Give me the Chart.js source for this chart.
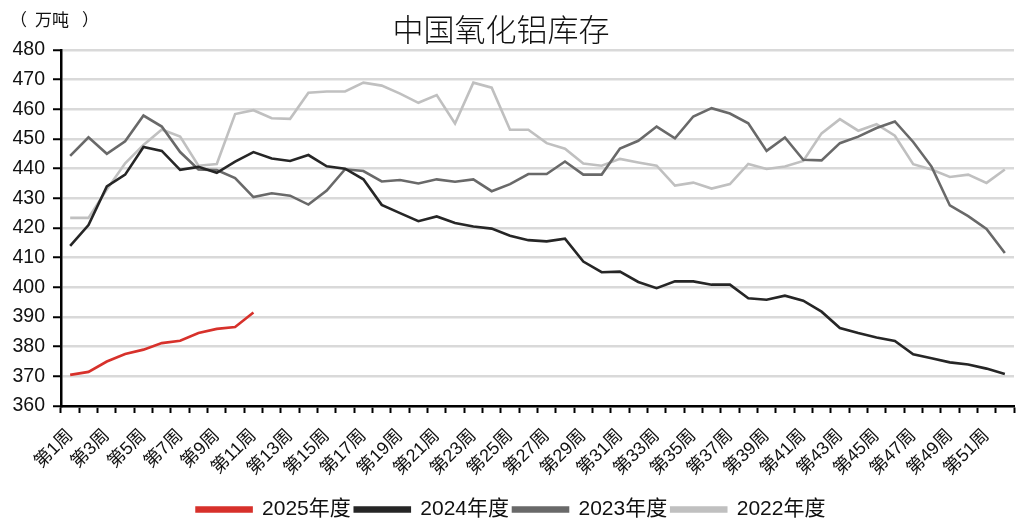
<!DOCTYPE html>
<html>
<head>
<meta charset="utf-8">
<script src="https://cdn.jsdelivr.net/npm/chart.js@4/dist/chart.umd.min.js"></script>
<style>
  html, body { margin: 0; padding: 0; background: #fff; }
  #wrap { width: 1020px; height: 520px; }
</style>
</head>
<body>
<div id="wrap"><canvas id="c" width="1020" height="520"></canvas></div>
<script>
// weeks 1..52
const weeks = [];
for (let i = 1; i <= 52; i++) weeks.push("第" + i + "周");

const yTicks = [360, 370, 380, 390, 400, 410, 420, 430, 440, 450, 460, 470, 480];

const seriesNames = ["2025年度", "2024年度", "2023年度", "2022年度"];

const v2025 = [370.5, 371.5, 375, 377.5, 379, 381.2, 382, 384.6, 386, 386.6, 391.5];

const v2024 = [414, 421, 434, 438, 447.3, 446, 439.6, 440.6, 438.6, 442.4,
  445.6, 443.4, 442.6, 444.6, 440.8, 440, 436.4, 427.8, 425, 422.3,
  423.9, 421.7, 420.5, 419.8, 417.4, 415.9, 415.5, 416.4, 408.7, 405.1,
  405.3, 401.8, 399.7, 402, 402, 400.9, 400.9, 396.3, 395.8, 397.2,
  395.5, 391.8, 386.3, 384.6, 383.1, 381.9, 377.4, 376.1, 374.7, 374,
  372.6, 370.8];

const v2023 = [444.3, 450.6, 445, 449.2, 457.9, 454.2, 445.6, 439.7, 439.5, 436.8,
  430.4, 431.7, 430.9, 427.9, 432.6, 439.8, 439.2, 435.7, 436.2, 435,
  436.4, 435.6, 436.4, 432.4, 434.8, 438.2, 438.2, 442.4, 438, 438,
  446.8, 449.4, 454.2, 450.2, 457.6, 460.4, 458.6, 455.3, 446, 450.5,
  443, 442.8, 448.6, 450.8, 453.7, 455.9, 449, 440.7, 427.6, 424,
  419.7, 411.6];

const v2022 = [423.4, 423.4, 433, 441.8, 448, 453.2, 450.8, 441, 441.6, 458.4,
  459.7, 457, 456.8, 465.6, 466, 466, 469, 468, 465.3, 462.2,
  464.8, 455.2, 469, 467.3, 453.1, 453.1, 448.6, 446.7, 441.7, 441,
  443.3, 442.1, 441, 434.3, 435.3, 433.3, 434.8, 441.6, 439.9, 440.7,
  442.6, 451.9, 456.7, 452.8, 455, 451.1, 441.5, 439.7, 437.2, 438,
  435.2, 439.7];

const colors = ["#d7312b", "#262626", "#696969", "#c0c0c0"];

const latin = "'Liberation Sans', Arial, 'Noto Sans CJK SC', sans-serif";

// title and unit label
const headerPlugin = {
  id: "header",
  afterDraw(chart) {
    const ctx = chart.ctx;
    ctx.save();
    ctx.fillStyle = "#111";
    ctx.textBaseline = "middle";
    ctx.textAlign = "center";
    ctx.font = "300 31px 'Noto Sans CJK SC', sans-serif";
    ctx.fillText("中国氧化铝库存", 501, 29);
    ctx.textAlign = "left";
    ctx.font = "17px 'Noto Sans CJK SC', sans-serif";
    ctx.fillText("（", 10, 20);
    ctx.fillText("万吨", 35, 20);
    ctx.fillText("）", 82, 20);
    ctx.restore();
  }
};

new Chart(document.getElementById("c"), {
  type: "line",
  data: {
    labels: weeks,
    datasets: [
      { label: seriesNames[0], data: v2025, borderColor: colors[0], backgroundColor: colors[0] },
      { label: seriesNames[1], data: v2024, borderColor: colors[1], backgroundColor: colors[1] },
      { label: seriesNames[2], data: v2023, borderColor: colors[2], backgroundColor: colors[2] },
      { label: seriesNames[3], data: v2022, borderColor: colors[3], backgroundColor: colors[3] }
    ]
  },
  plugins: [headerPlugin],
  options: {
    responsive: false,
    animation: false,
    devicePixelRatio: 1,
    layout: { padding: { top: 50, right: 6, left: 8, bottom: -10 } },
    elements: {
      line: { borderWidth: 2.6, tension: 0 },
      point: { radius: 0, hoverRadius: 0 }
    },
    scales: {
      x: {
        type: "category",
        offset: true,
        afterFit: function (axis) {
          axis.height = 89;
          axis.paddingLeft = 0;
          axis.paddingRight = 0;
        },
        grid: {
          display: true,
          drawOnChartArea: false,
          drawTicks: true,
          tickLength: 7,
          tickWidth: 2,
          tickColor: "#000",
          offset: true
        },
        border: { display: true, color: "#000", width: 2.5 },
        ticks: {
          autoSkip: false,
          maxRotation: 45,
          minRotation: 45,
          color: "#111",
          padding: 12,
          font: { size: 18, family: latin },
          callback: function (val, idx) {
            return idx % 2 === 0 ? weeks[idx] : "";
          }
        }
      },
      y: {
        min: 360,
        max: 480,
        afterFit: function (axis) { axis.width = 53; },
        afterBuildTicks: function (axis) {
          axis.ticks = yTicks.map(v => ({ value: v }));
        },
        grid: {
          color: "#d9d9d9",
          lineWidth: 2.5,
          drawTicks: true,
          tickLength: 8,
          tickColor: "#000",
          tickWidth: 2
        },
        border: { display: true, color: "#000", width: 2.5 },
        ticks: {
          color: "#111",
          padding: 8,
          font: { size: 19.5, family: latin }
        }
      }
    },
    plugins: {
      title: { display: false },
      tooltip: { enabled: false },
      legend: {
        position: "bottom",
        labels: {
          boxWidth: 55,
          boxHeight: 4,
          padding: 4,
          color: "#111",
          font: { size: 21, family: latin }
        }
      }
    }
  }
});
</script>
</body>
</html>
